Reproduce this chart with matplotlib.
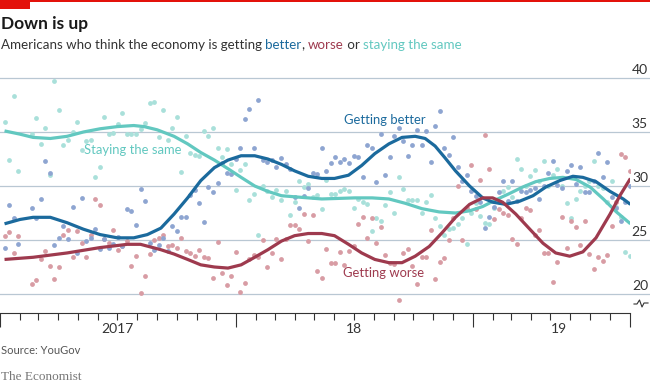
import datetime as dt
import matplotlib
matplotlib.use("Agg")
import matplotlib.pyplot as plt
import matplotlib.dates as mdates
import matplotlib.transforms as mtransforms
from matplotlib.lines import Line2D
from matplotlib.patches import Rectangle

# ---------------- data ----------------
START = dt.date(2017, 1, 8)          # week 0 of the poll series

poll_week = [0, 1, 2, 3] + list(range(6, 139))

better = [24.3, 28.2, 27.0, 24.6,
          28.0, 27.0, 28.8, 32.3, 31.2, 24.5, 25.2, 26.3, 25.1, 28.1, 23.8, 28.9, 24.9, 25.2,
          26.0, 24.2, 25.1, 24.3, 24.6, 25.3, 24.4, 27.9, 27.7, 26.4, 29.7, 28.6, 24.7, 24.1,
          24.5, 25.2, 24.0, 26.3, 25.8, 27.1, 27.1, 29.2, 29.6, 28.4, 26.7, 29.9, 29.4, 30.3,
          32.1, 31.2, 31.1, 32.5, 33.5, 36.2, 37.1, 33.5, 38.0, 32.4, 32.2, 32.4, 31.8, 32.6,
          32.0, 31.6, 29.0, 28.0, 29.1, 29.8, 31.2, 31.1, 33.5, 31.4, 32.1, 32.7, 32.2, 32.5,
          32.1, 32.8, 32.7, 30.8, 33.8, 33.5, 30.4, 34.8, 31.0, 32.7, 34.6, 35.4, 34.2, 32.8,
          33.8, 35.2, 33.8, 35.1, 32.2, 35.6, 36.9, 33.5, 32.9, 34.5, 31.8, 30.5, 31.0, 29.5,
          29.1, 28.5, 26.1, 27.1, 28.1, 29.4, 30.5, 28.6, 30.5, 28.6, 29.5, 29.4, 29.6, 29.8,
          28.8, 30.0, 31.2, 32.3, 30.1, 29.8, 31.4, 31.9, 30.2, 31.8, 29.4, 29.4, 30.5, 33.1,
          30.8, 32.2, 29.0, 28.0, 26.8, 28.5, 30.0]

worse = [25.4, 25.7, 23.8, 25.4,
         20.9, 21.3, 23.2, 24.0, 22.6, 21.4, 22.5, 25.5, 25.9, 23.4, 25.8, 24.7, 23.4, 25.5,
         28.8, 28.2, 25.1, 24.7, 25.9, 24.1, 24.4, 24.9, 22.6, 23.5, 20.1, 21.7, 23.7, 25.0,
         25.2, 25.5, 24.4, 24.5, 24.3, 25.2, 24.0, 23.8, 23.5, 24.1, 23.4, 23.3, 21.5, 24.8,
         21.9, 20.8, 21.7, 23.9, 20.2, 21.0, 23.2, 23.6, 23.4, 25.0, 22.5, 23.8, 25.1, 23.2,
         25.1, 26.4, 26.4, 26.0, 27.4, 24.9, 27.3, 22.1, 21.5, 24.2, 22.9, 22.9, 23.9, 22.7,
         24.0, 24.4, 26.5, 27.1, 25.2, 27.0, 24.7, 26.2, 23.6, 22.9, 22.8, 19.4, 23.8, 24.2,
         22.6, 20.9, 23.4, 23.4, 25.9, 21.4, 23.0, 23.3, 25.0, 27.0, 30.0, 25.0, 28.0, 31.9,
         27.9, 30.6, 34.7, 31.6, 26.9, 27.9, 27.5, 27.3, 25.1, 24.6, 27.0, 28.0, 27.8, 25.5,
         25.9, 23.8, 23.8, 21.1, 23.0, 27.1, 24.3, 26.8, 26.2, 24.5, 26.8, 23.7, 22.3, 23.4,
         23.1, 23.6, 26.3, 28.5, 33.0, 32.7, 31.4]

same = [35.9, 32.4, 38.3, 31.4,
        34.8, 36.3, 33.9, 35.4, 31.0, 39.7, 37.0, 33.8, 34.3, 35.0, 35.9, 33.3, 34.2, 34.3,
        30.8, 31.8, 36.4, 34.8, 34.9, 35.7, 36.8, 34.8, 34.8, 34.8, 35.3, 35.8, 37.7, 37.8,
        34.5, 37.0, 34.3, 35.4, 36.4, 31.3, 34.6, 33.1, 32.9, 32.8, 35.1, 34.6, 35.4, 33.5,
        32.7, 33.4, 32.0, 29.6, 31.5, 32.0, 28.7, 29.3, 25.5, 30.0, 29.5, 29.0, 29.6, 28.7,
        29.5, 27.3, 28.5, 30.5, 29.9, 30.2, 29.0, 29.2, 27.9, 30.6, 29.3, 29.3, 29.5, 29.7,
        29.5, 28.0, 28.8, 28.5, 28.3, 25.8, 27.0, 26.8, 28.2, 29.4, 27.5, 30.8, 29.7, 28.7,
        28.7, 28.7, 27.5, 28.5, 29.2, 27.0, 26.3, 25.5, 26.0, 26.1, 26.5, 27.0, 24.6, 27.5,
        28.4, 27.2, 26.6, 26.5, 28.0, 28.5, 29.5, 29.9, 29.0, 32.5, 31.6, 30.0, 30.9, 31.5,
        30.5, 32.3, 30.0, 31.0, 31.6, 30.0, 28.4, 27.0, 28.8, 29.5, 30.0, 30.5, 32.3, 30.0,
        29.8, 28.5, 30.5, 28.1, 27.1, 23.9, 23.5]

# smoothed trend lines
trend_same_week = [0, 3.4, 6.3, 10.1, 13.8, 17.4, 21.1, 24.9, 28.5, 30.8, 33.7, 37.4, 40.4,
                   43.3, 46.3, 49.3, 52.2, 55.2, 58.1, 61.1, 64.0, 67.0, 70.0, 77.3, 81.1,
                   84.8, 88.4, 92.1, 95.9, 99.5, 102.6, 105.5, 108.3, 111.4, 114.3, 117.2,
                   120.3, 123.2, 126.1, 129.2, 132.1, 135.0, 138.1]
trend_same = [35.1, 34.8, 34.5, 34.4, 34.6, 35.0, 35.3, 35.5, 35.6, 35.5, 35.2, 34.6, 33.9,
              33.1, 32.4, 31.6, 30.8, 30.0, 29.5, 29.1, 29.0, 28.9, 28.8, 28.9, 28.9,
              28.8, 28.4, 27.9, 27.6, 27.5, 27.7, 28.1, 28.7, 29.3, 29.9, 30.4,
              30.7, 30.8, 30.6, 29.9, 28.8, 27.6, 26.5]

trend_better_week = [0, 3.4, 6.3, 10.1, 13.8, 17.4, 21.1, 24.9, 28.5, 31.5, 34.5, 37.4, 40.4,
                     43.3, 46.3, 49.3, 52.2, 55.2, 58.1, 61.1, 64.0, 67.0, 70.0, 72.8, 75.9,
                     78.8, 81.7, 84.8, 87.7, 90.6, 92.8, 95.0, 97.2, 99.5, 102.6, 105.5,
                     107.7, 110.6, 113.7, 116.6, 119.4, 122.5, 125.4, 127.6, 130.5, 133.6,
                     136.5, 138.1]
trend_better = [26.5, 26.9, 27.1, 27.1, 26.6, 26.0, 25.5, 25.2, 25.2, 25.5, 26.1, 27.4, 28.9,
                30.5, 31.7, 32.4, 32.8, 32.8, 32.5, 32.0, 31.4, 30.9, 30.7, 30.7, 31.0,
                31.9, 33.0, 33.9, 34.5, 34.6, 34.4, 33.7, 32.6, 31.4, 30.0, 28.9,
                28.5, 28.3, 28.6, 29.1, 29.9, 30.5, 30.9, 30.8, 30.4, 29.5,
                28.8, 28.3]

trend_worse_week = [0, 6.3, 13.8, 21.1, 27.1, 30.0, 34.5, 37.4, 40.4, 43.3, 46.3, 49.3, 52.2,
                    55.2, 58.1, 61.1, 64.0, 67.0, 70.0, 72.8, 75.9, 78.8, 81.7, 84.8, 87.7,
                    90.6, 93.7, 96.6, 99.5, 102.6, 105.5, 107.7, 109.9, 112.8, 115.9, 118.8,
                    121.6, 124.7, 127.6, 130.5, 133.6, 135.9, 138.1]
trend_worse = [23.2, 23.4, 23.8, 24.3, 24.6, 24.6, 24.1, 23.7, 23.2, 22.7, 22.5, 22.4, 22.7,
               23.4, 24.1, 24.9, 25.4, 25.6, 25.6, 25.4, 24.6, 23.8, 23.2, 22.9, 22.9,
               23.5, 24.4, 25.7, 27.1, 28.3, 28.9, 28.9, 28.5, 27.4, 26.0, 24.7,
               23.8, 23.5, 23.9, 25.2, 27.4, 29.2, 30.7]

y_ticks = [20, 25, 30, 35, 40]
year_labels = ["2017", "18", "19"]
year_label_dates = [dt.date(2017, 7, 2), dt.date(2018, 7, 2), dt.date(2019, 5, 14)]

# ---------------- style ----------------
W, H = 650, 383
FONT = ["Lato", "DejaVu Sans"]
BLUE_LINE, BLUE_DOT = "#1b6a9d", "#8ea5d1"
RED_LINE, RED_DOT = "#9e3a4e", "#d89ca4"
TEAL_LINE, TEAL_DOT = "#62c8c0", "#a9e0da"
GRID = "#b9c7d3"
TEXT = "#1a1a1a"

t0 = mdates.date2num(START)
def wk(ws):
    return [t0 + 7 * w for w in ws]

fig = plt.figure(figsize=(W / 100, H / 100), dpi=100)
ax_left, ax_right, ax_top, ax_bottom = 0, 630, 60, 313
ax = fig.add_axes([ax_left / W, (H - ax_bottom) / H, (ax_right - ax_left) / W,
                   (ax_bottom - ax_top) / H])
ax.patch.set_visible(False)
ax.set_xlim(mdates.date2num(dt.date(2017, 1, 1)), mdates.date2num(dt.date(2019, 9, 1)))
ax.set_ylim(20 - (ax_bottom - 294) / 10.8, 20 + (294 - ax_top) / 10.8)

# gridlines across full width + labels at right
blend = mtransforms.blended_transform_factory(fig.transFigure, ax.transData)
for v in y_ticks:
    ax.plot([0, 1], [v, v], transform=blend, color=GRID, lw=0.9, clip_on=False, zorder=0.5)
    ax.text(648 / W, v, str(v), transform=blend + mtransforms.ScaledTranslation(0, 2 / 100, fig.dpi_scale_trans),
            ha="right", va="bottom", fontsize=10, family=FONT, color="#333333")

# dots
dates = wk(poll_week)
ax.scatter(dates, same, s=12, color=TEAL_DOT, lw=0, zorder=2)
ax.scatter(dates, worse, s=12, color=RED_DOT, lw=0, zorder=2)
ax.scatter(dates, better, s=12, color=BLUE_DOT, lw=0, zorder=2)

# trend lines
ax.plot(wk(trend_same_week), trend_same, color=TEAL_LINE, lw=2.3, zorder=3,
        solid_capstyle="butt")
ax.plot(wk(trend_better_week), trend_better, color=BLUE_LINE, lw=2.3, zorder=4,
        solid_capstyle="butt")
ax.plot(wk(trend_worse_week), trend_worse, color=RED_LINE, lw=2.3, zorder=5,
        solid_capstyle="butt")

# line labels
LAB_FS = 9.4
ax.text(t0 + 7 * 28.3, 33.3, "Staying the same", color=TEAL_LINE, fontsize=LAB_FS,
        family=FONT, ha="center", va="center", zorder=6)
ax.text(t0 + 7 * 83.9, 36.1, "Getting better", color=BLUE_LINE, fontsize=LAB_FS,
        family=FONT, ha="center", va="center", zorder=6)
ax.text(t0 + 7 * 83.7, 21.9, "Getting worse", color=RED_LINE, fontsize=LAB_FS,
        family=FONT, ha="center", va="center", zorder=6)

# axes cosmetics
for s in ["top", "right", "left"]:
    ax.spines[s].set_visible(False)
ax.spines["bottom"].set_color("#333333")
ax.spines["bottom"].set_linewidth(0.8)
ax.set_yticks([])
ax.set_xticks([mdates.date2num(d) for d in
               [dt.date(2017, 1, 1), dt.date(2018, 1, 1), dt.date(2019, 1, 1), dt.date(2019, 9, 1)]])
ax.xaxis.set_minor_locator(mdates.MonthLocator())
ax.set_xticklabels([])
ax.tick_params(axis="x", which="major", length=10, width=0.8, color="#333333")
ax.tick_params(axis="x", which="minor", length=5, width=0.8, color="#333333")
xblend = mtransforms.blended_transform_factory(ax.transData, fig.transFigure)
for lab, d in zip(year_labels, year_label_dates):
    ax.text(mdates.date2num(d), (H - 329) / H, lab, transform=xblend, ha="center",
            va="center", fontsize=10, family=FONT, color="#333333")

# axis-break mark
fig.add_artist(Line2D([634 / W, 637 / W, 639.5 / W, 642 / W, 644 / W, 648 / W],
                      [(H - 304) / H, (H - 304) / H, (H - 300) / H, (H - 307) / H,
                       (H - 303) / H, (H - 303) / H], color="#333333", lw=0.8))

# header
fig.add_artist(Rectangle((0, 1 - 2 / H), 1, 2 / H, transform=fig.transFigure,
                         color="#e3120b", lw=0))
fig.add_artist(Rectangle((0, 1 - 9 / H), 30 / W, 9 / H, transform=fig.transFigure,
                         color="#e3120b", lw=0))
fig.text(1 / W, 1 - 29 / H, "Down is up", fontsize=12.5, weight="bold", family=FONT,
         color=TEXT, va="baseline", ha="left")

renderer = fig.canvas.get_renderer()
sub_parts = [("Americans who think the economy is getting ", "#333333"),
             ("better", BLUE_LINE), (", ", "#333333"), ("worse", RED_LINE),
             (" or ", "#333333"), ("staying the same", TEAL_LINE)]
sub_y = 1 - 49 / H
SUB_FS = 9.6

def text_width(s):
    t = fig.text(0, 0, s + "|", fontsize=SUB_FS, family=FONT)
    w1 = t.get_window_extent(renderer=renderer).width
    t.remove()
    t = fig.text(0, 0, "|", fontsize=SUB_FS, family=FONT)
    w2 = t.get_window_extent(renderer=renderer).width
    t.remove()
    return w1 - w2

x0 = 1
prefix = ""
for s, c in sub_parts:
    fig.text((x0 + text_width(prefix) if prefix else x0) / W, sub_y, s, color=c,
             fontsize=SUB_FS, family=FONT, va="baseline", ha="left")
    prefix += s

fig.text(1 / W, 1 - 354 / H, "Source: YouGov", fontsize=8, family=FONT, color="#555555",
         va="baseline", ha="left")
fig.text(1 / W, 1 - 380 / H, "The Economist", fontsize=9.5, family=["Liberation Serif", "DejaVu Serif"],
         color="#777777", va="baseline", ha="left")

fig.savefig("out.png", dpi=100)
